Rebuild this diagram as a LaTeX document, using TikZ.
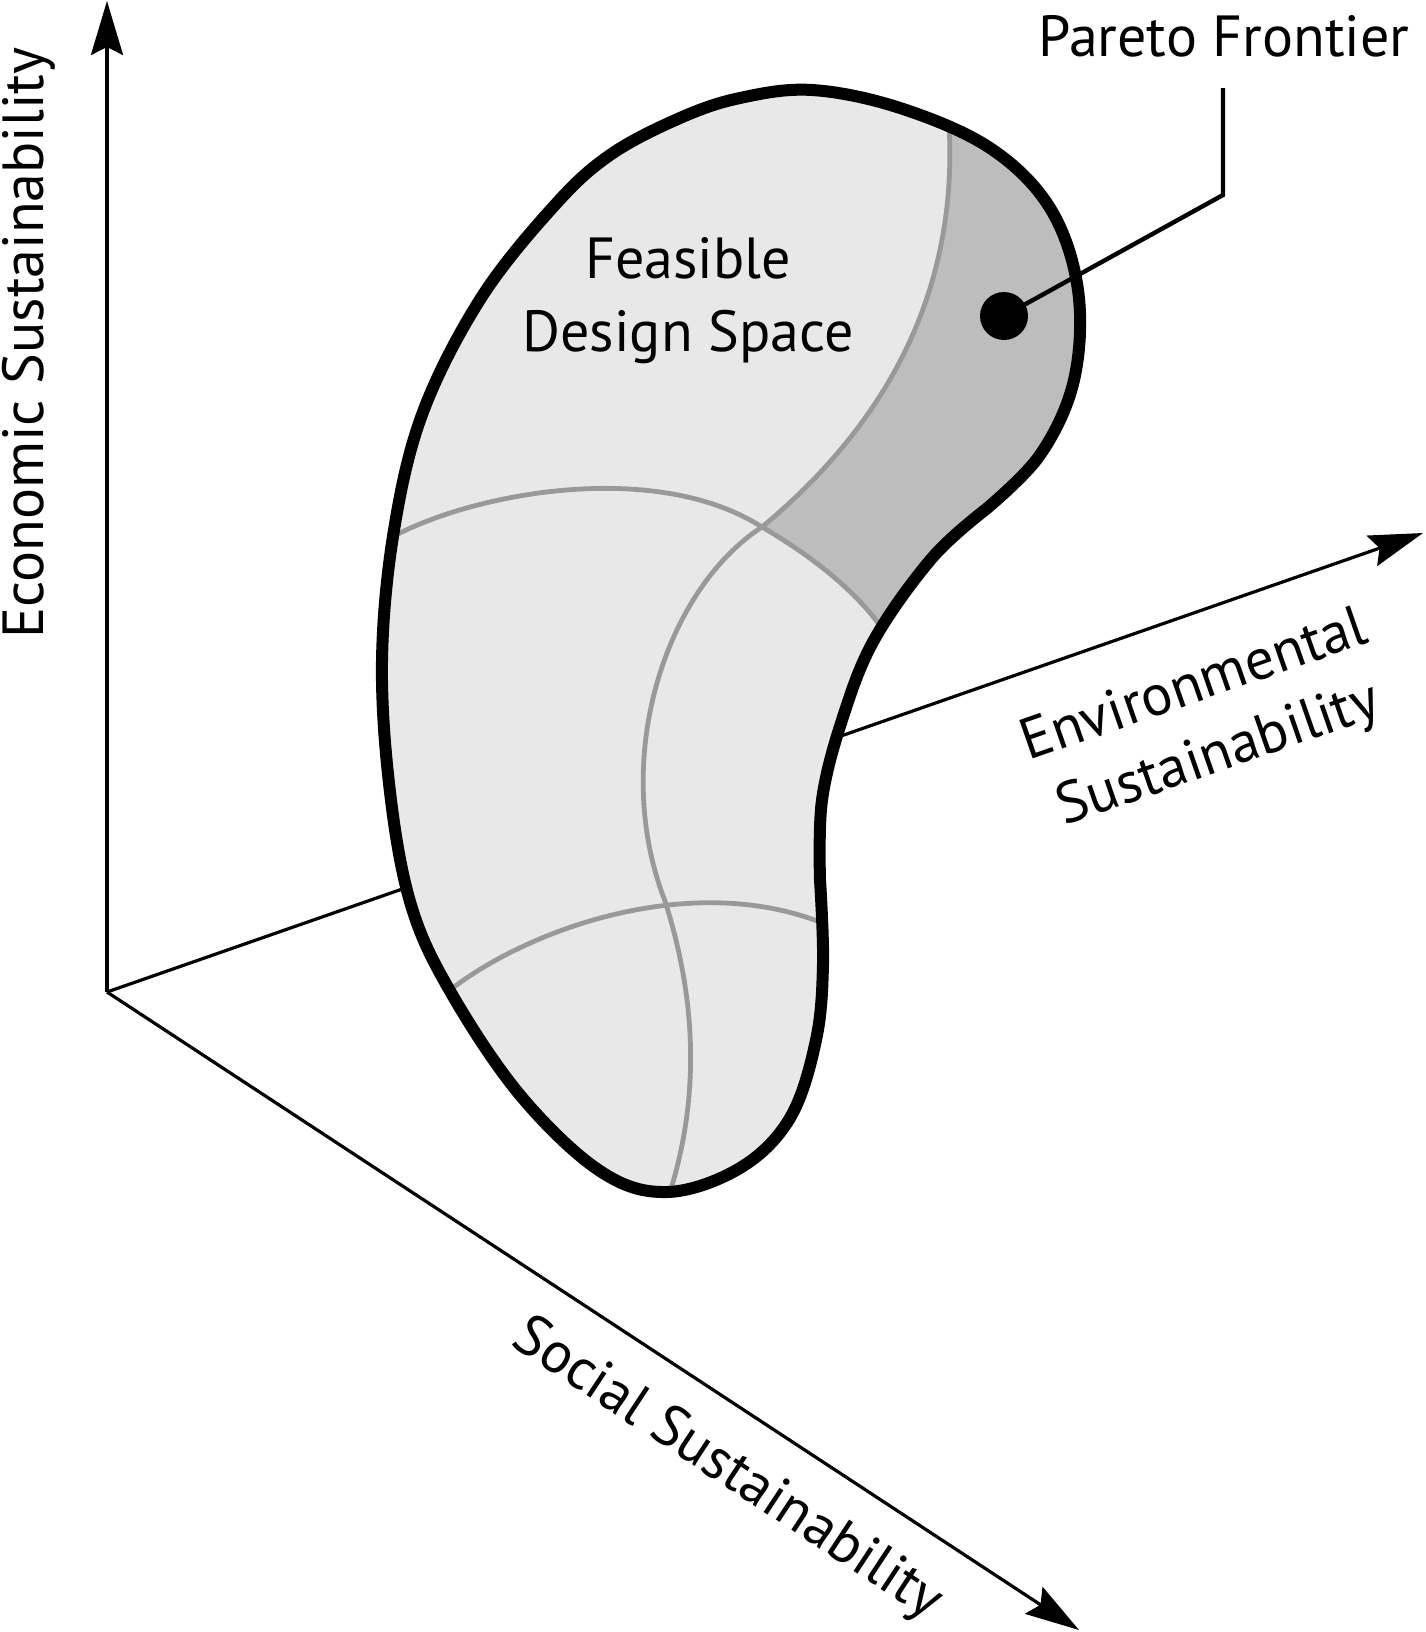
\documentclass[tikz,border=0pt]{standalone}
\usepackage{fontspec}
\setmainfont{PT Sans}
\usetikzlibrary{arrows.meta}
\definecolor{feasgray}{HTML}{E8E8E8}
\definecolor{paretogray}{HTML}{BDBDBD}
\definecolor{meshgray}{HTML}{999999}
\newcommand{\blobpath}{plot[smooth,tension=0.6] coordinates {(985,510) (1040,455) (1074,380) (1078,290) (1050,208) (990,148) (900,108) (812,90) (740,98) (680,118) (610,155) (554,206) (481,298) (423,412) (394,530) (382,661) (390,792) (411,905) (450,991) (520,1095) (600,1171) (667,1192) (740,1168) (790,1118) (816,1040) (823,964) (820,880)} -- plot[smooth,tension=0.6] coordinates {(820,880) (822,800) (842,720) (874,640) (932,558) (985,510)} -- cycle}

\begin{document}
\begin{tikzpicture}[x=0.5pt,y=-0.5pt,
  axis/.style={line width=1.6pt,-{Stealth[length=27pt,width=16pt,inset=4pt]}},
  mesh/.style={meshgray,line width=2.4pt},
  lbl/.style={font=\fontsize{29}{36.5}\selectfont,align=center}]
\useasboundingbox (0,0) rectangle (1425,1632);
\coordinate (O) at (107,992);
\coordinate (econ) at (107,1);
\coordinate (envi) at (1423,533);
\coordinate (soc) at (1079,1630);
\draw[axis] (O) -- (econ);
\draw[axis] (O) -- (envi);
\draw[axis] (O) -- (soc);

\fill[feasgray] \blobpath;
\begin{scope}
\clip \blobpath;
\fill[paretogray] (946,90) .. controls (965,250) and (915,400) .. (762,527)
  .. controls (810,555) and (855,590) .. (881,627) -- (910,665) -- (1150,665) -- (1150,60) -- cycle;
\draw[mesh] (946,90) .. controls (965,250) and (915,400) .. (762,527);
\draw[mesh] (762,527) .. controls (665,590) and (610,760) .. (665,901)
  .. controls (690,980) and (705,1080) .. (670,1192) -- (664,1210);
\draw[mesh] (390,538) -- (404,531) .. controls (490,490) and (660,462) .. (762,527)
  .. controls (810,555) and (855,590) .. (881,627) -- (895,645);
\draw[mesh] (440,997) -- (450,990) .. controls (530,928) and (690,872) .. (820,922) -- (835,928);
\end{scope}
\draw[line width=6pt] \blobpath;

\node[circle,fill,inner sep=0pt,minimum size=24pt] (dot) at (1004,316) {};
\node[lbl,anchor=base,inner sep=15pt] (pareto) at (1224,57) {Pareto Frontier};
\coordinate (bend) at (1223,195);
\draw[line width=2.2pt] (dot.center) -- (bend) -- (bend |- pareto.south);

\node[lbl,anchor=base] (feas) at (688,351) {Feasible\\Design Space};
\node[lbl,anchor=base,rotate=90] (econlbl) at (43,343) {Economic Sustainability};
\node[lbl,rotate=19.2] (envilbl) at (1207,722) {Environmental\\Sustainability};
\node[lbl,rotate=-33.4] (soclbl) at (727,1470) {Social Sustainability};
\end{tikzpicture}
\end{document}
